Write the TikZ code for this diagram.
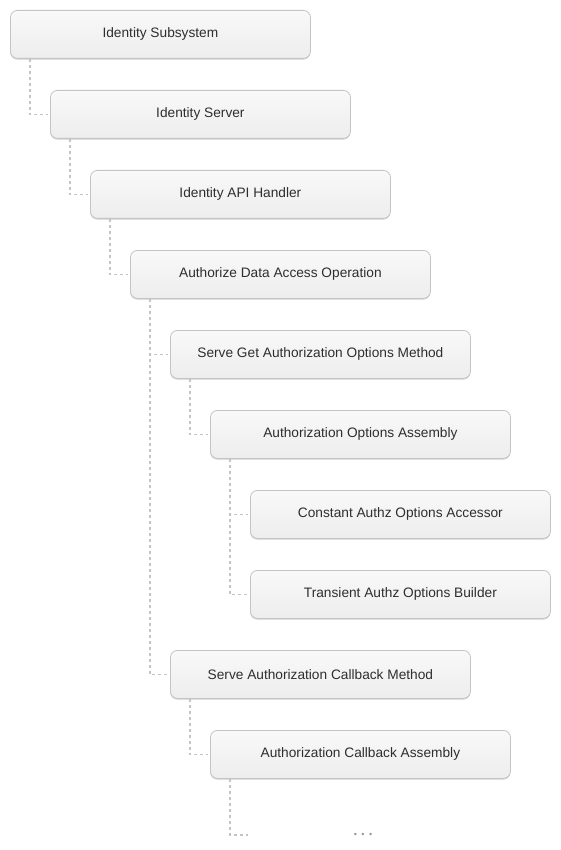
\documentclass[tikz,border=0pt]{standalone}
\usepackage{fontspec}
\setmainfont{Liberation Sans}
\usetikzlibrary{shadows}
\definecolor{boxtop}{HTML}{F9F9F9}
\definecolor{boxbot}{HTML}{EDEDED}
\definecolor{boxline}{HTML}{C4C4C4}
\definecolor{boxshadow}{HTML}{D0D0D0}
\definecolor{linkcol}{HTML}{C4C4C4}
\definecolor{txtcol}{HTML}{2E2E2E}
\definecolor{dotcol}{HTML}{999999}
\tikzset{
  treebox/.style={draw=boxline, line width=0.8pt, rounded corners=7pt,
    top color=boxtop, bottom color=boxbot, minimum width=300pt, minimum height=48pt,
    inner sep=0pt, text=txtcol, font=\fontsize{13.7pt}{16pt}\selectfont, anchor=north west,
    drop shadow={shadow xshift=0pt, shadow yshift=-1.2pt, fill=boxshadow, opacity=1}},
  link/.style={draw=linkcol, line width=1.5pt, dash pattern=on 3pt off 3pt}
}
\begin{document}
\begin{tikzpicture}[x=1pt,y=-1pt]
\useasboundingbox (0,0) rectangle (560,850);
\node[treebox] (n0) at (10,10) {Identity Subsystem};
\node[treebox] (n1) at (50,90) {Identity Server};
\node[treebox] (n2) at (90,170) {Identity API Handler};
\node[treebox] (n3) at (130,250) {Authorize Data Access Operation};
\node[treebox] (n4) at (170,330) {Serve Get Authorization Options Method};
\node[treebox] (n5) at (210,410) {Authorization Options Assembly};
\node[treebox] (n6) at (250,490) {Constant Authz Options Accessor};
\node[treebox] (n7) at (250,570) {Transient Authz Options Builder};
\node[treebox] (n8) at (170,650) {Serve Authorization Callback Method};
\node[treebox] (n9) at (210,730) {Authorization Callback Assembly};
\coordinate (n10) at (250,835);
\node[text=dotcol, font=\fontsize{9pt}{10pt}\selectfont, inner sep=0pt] (dots) at (363,835)
  {\textbullet\hspace{4.5pt}\textbullet\hspace{4.5pt}\textbullet};
\foreach \p/\c in {n0/n1,n1/n2,n2/n3,n3/n4,n4/n5,n5/n6,n5/n7,n3/n8,n8/n9}{
  \draw[link] ([xshift=20pt]\p.south west) |- ([xshift=-2pt]\c.west);
}
\draw[link] ([xshift=20pt]n9.south west) |- ([xshift=-2pt]n10);
\end{tikzpicture}
\end{document}
